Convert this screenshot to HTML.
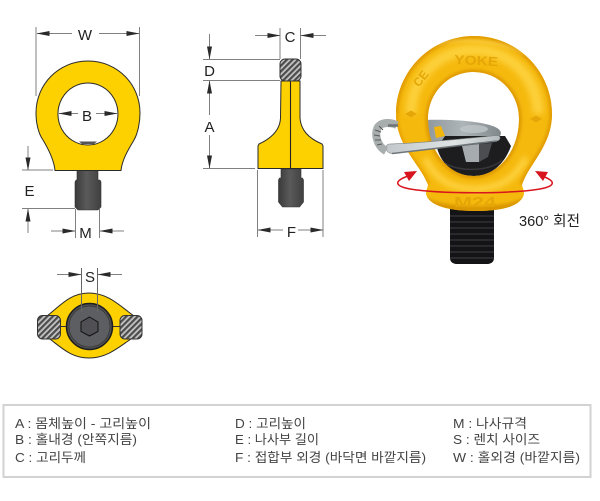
<!DOCTYPE html>
<html><head><meta charset="utf-8"><style>
html,body{margin:0;padding:0;background:#fff}
svg{display:block}
text{font-family:"Liberation Sans","Noto Sans CJK KR",sans-serif}
.d{font-size:15px;fill:#222;text-anchor:middle}
.t{font-size:13px;fill:#444;font-family:"Liberation Sans","Noto Sans CJK KR",sans-serif}
.l{stroke:#808080;stroke-width:1;fill:none}
</style></head><body>
<svg width="600" height="501" viewBox="0 0 600 501" xmlns="http://www.w3.org/2000/svg">
<defs>
<pattern id="h" width="4" height="4" patternUnits="userSpaceOnUse" patternTransform="rotate(45)">
<rect width="4" height="4" fill="#c4c4c4"/><rect width="2.200" height="4" fill="#4c4c4c"/>
</pattern>
<linearGradient id="bolt" x1="0" x2="1" y1="0" y2="0"><stop offset="0" stop-color="#3a3a3a"/><stop offset=".45" stop-color="#5a5a5a"/><stop offset="1" stop-color="#404040"/></linearGradient>
<linearGradient id="plate" x1="0" x2="1" y1="0" y2="0"><stop offset="0" stop-color="#8e979c"/><stop offset=".5" stop-color="#aeb5b9"/><stop offset="1" stop-color="#7f878b"/></linearGradient>
<linearGradient id="bar" x1="0" x2="1" y1="0" y2="0"><stop offset="0" stop-color="#c2c8cb"/><stop offset=".6" stop-color="#dfe3e4"/><stop offset="1" stop-color="#b4bbbe"/></linearGradient>
<filter id="b1" x="-20%" y="-20%" width="140%" height="140%"><feGaussianBlur stdDeviation="1.500"/></filter>
<filter id="b2" x="-20%" y="-20%" width="140%" height="140%"><feGaussianBlur stdDeviation="3"/></filter>
<marker id="a" markerWidth="13" markerHeight="6" refX="12.500" refY="3" orient="auto" markerUnits="userSpaceOnUse"><path d="M0,.5L13,3L0,5.500Z" fill="#2a2a2a"/></marker>
<clipPath id="rc"><path clip-rule="evenodd" d="M426,194C426,189 428,187 428,185C421,165 396,146 396,114C396,71 431,36 474,36C517,36 552,71 552,114C552,146 528,165 522,185C522,187 524,189 524,194C522,203 510,211 476,211C442,211 428,203 426,194ZM473.500,72C448,72 428,93 428,119C428,150 448,176 473.500,176C499,176 519,150 519,119C519,93 499,72 473.500,72Z"/></clipPath>
</defs>

<!-- FRONT VIEW -->
<path d="M77,170h21v10h2l1,2v25l-3,3h-20l-3,-3v-25l1,-2h1z" fill="url(#bolt)" stroke="#333" stroke-width=".6"/>
<path fill-rule="evenodd" d="M55,170.500L121,170.500C122,160 128,150 134,140C138,133 140,122 140,113C140,84 117,61 88,61C59,61 36,84 36,113C36,122 38,133 43,140C49,150 54,160 55,170.500ZM88,83A30,31 0 1 1 87.900,83Z" fill="#fdd000" stroke="#2a2a2a" stroke-width="1"/>
<path d="M79,141.500h18l-3,2.500h-12z" fill="#555"/>
<g class="l">
<path d="M36,27V96M139.500,27V96"/>
<path d="M22,170H53M22,208.500H75M75.500,209V238M99.500,209V238"/>
</g>
<g class="l">
<path d="M72,33.500H37" marker-end="url(#a)"/><path d="M99,33.500H139" marker-end="url(#a)"/>
<path d="M78,113.500H59" marker-end="url(#a)"/><path d="M96,113.500H117" marker-end="url(#a)"/>
<path d="M28,146V170" marker-end="url(#a)"/><path d="M28,233V209" marker-end="url(#a)"/>
<path d="M51,231H75" marker-end="url(#a)"/><path d="M124,231H100" marker-end="url(#a)"/>
</g>
<text class="d" x="85" y="40">W</text>
<text class="d" x="87" y="121">B</text>
<text class="d" x="29.500" y="196">E</text>
<text class="d" x="85.500" y="238">M</text>

<!-- SIDE VIEW -->
<path d="M281,169h20v9h1.500l1,2v22l-4,5h-17l-4,-5v-22l1,-2h1.500z" fill="url(#bolt)" stroke="#333" stroke-width=".6"/>
<path d="M281,81H300V118C301,130 308,138 322,144L323,146V168.500H258V146L259,144C272,138 280,130 280.500,118Z" fill="#fdd000" stroke="#2a2a2a" stroke-width="1"/>
<path d="M290.500,81V168.500" stroke="#222" stroke-width="1.100"/>
<rect x="280" y="59" width="21" height="22" rx="5" fill="url(#h)" stroke="#333" stroke-width="1"/>
<g class="l">
<path d="M280,28V59M300.500,28V59"/>
<path d="M203,59.500H280M203,80.500H280M203,168.500H255"/>
<path d="M257.500,170V237M323,170V237"/>
</g>
<g class="l">
<path d="M255,35.500H280" marker-end="url(#a)"/><path d="M326,35.500H301" marker-end="url(#a)"/>
<path d="M209.500,34V59" marker-end="url(#a)"/>
<path d="M209.500,115V81" marker-end="url(#a)"/><path d="M209.500,135V168" marker-end="url(#a)"/>
<path d="M283,230H258" marker-end="url(#a)"/><path d="M298,230H323" marker-end="url(#a)"/>
</g>
<text class="d" x="290" y="42">C</text>
<text class="d" x="209.500" y="76">D</text>
<text class="d" x="209.500" y="132">A</text>
<text class="d" x="291.500" y="237">F</text>

<!-- BOTTOM VIEW -->
<path d="M47,316C60,306 70,293 89,293C108,293 120,306 134,316L134,337C120,346 108,358 89,358C70,358 60,346 47,337Z" fill="#fdd000" stroke="#2a2a2a" stroke-width="1"/>
<path d="M58,326.500H122" stroke="#333" stroke-width="1"/>
<rect x="37.500" y="315.500" width="23" height="23.500" rx="5" fill="url(#h)" stroke="#333"/>
<rect x="120" y="315.500" width="22" height="23.500" rx="5" fill="url(#h)" stroke="#333"/>
<circle cx="89.500" cy="326.500" r="23" fill="#505155" stroke="#1e1e1e" stroke-width="1.500"/>
<circle cx="89.500" cy="326.500" r="20.500" fill="#5d5e62" stroke="#333" stroke-width=".7"/>
<path d="M89.500,317L98,322V331.500L89.500,336L81,331.500V322Z" fill="#505054" stroke="#111" stroke-width="1"/>
<g class="l">
<path d="M81.500,268V312M97.500,268V312" stroke="#666"/>
<path d="M57,274.500H81" marker-end="url(#a)"/><path d="M122,274.500H98" marker-end="url(#a)"/>
</g>
<text class="d" x="90" y="282">S</text>

<!-- PHOTO -->
<path d="M450,208H494V258Q494,263 488,264H456Q450,263 450,258Z" fill="#141416"/>
<g stroke="#38383c" stroke-width="1.200">
<path d="M450,216H494M450,222H494M450,228H494M450,234H494M450,240H494M450,246H494M450,252H494M450,258H494"/>
</g>
<!-- upper plate -->
<path d="M425,120C450,119 485,121 497,128C502,131 502,135 498,138L425,145Z" fill="url(#plate)"/>
<ellipse cx="474" cy="129" rx="14" ry="4" fill="#bfc5c8" opacity=".8"/>
<path d="M434,127L441,126L445,136L436,138Z" fill="#f2b60c"/>
<!-- nut -->
<path d="M437,148C442,166 456,176 474,176C492,176 505,163 511,146L505,136H445Z" fill="#1d1d20"/>
<path d="M445,163C458,172 490,172 502,160" stroke="#38383c" stroke-width="1.500" fill="none"/>
<path d="M462,146L479,144V162H466Z" fill="#a5abae"/>
<path d="M479,144L492,143L488,157L479,162Z" fill="#4b4d50"/>
<!-- ring -->
<path fill-rule="evenodd" d="M426,194C426,189 428,187 428,185C421,165 396,146 396,114C396,71 431,36 474,36C517,36 552,71 552,114C552,146 528,165 522,185C522,187 524,189 524,194C522,203 510,211 476,211C442,211 428,203 426,194ZM473.500,72C448,72 428,93 428,119C428,150 448,176 473.500,176C499,176 519,150 519,119C519,93 499,72 473.500,72Z" fill="#f5b90d"/>
<g clip-path="url(#rc)">
<path d="M396,114C396,71 431,36 474,36C517,36 552,71 552,114C552,146 528,165 522,185" fill="none" stroke="#e09a05" stroke-width="5" filter="url(#b1)"/>
<path d="M428,185C421,165 396,146 396,114" fill="none" stroke="#e89f05" stroke-width="4" filter="url(#b1)"/>
<path d="M473.500,72C448,72 428,93 428,119C428,150 448,176 473.500,176C499,176 519,150 519,119C519,93 499,72 473.500,72Z" fill="none" stroke="#dd9703" stroke-width="5" filter="url(#b1)"/>
<path d="M411,114C411,78 438,50 474,50C510,50 538,78 538,114" fill="none" stroke="#fdd03a" stroke-width="11" filter="url(#b2)"/>
<path d="M425,158C436,180 450,188 475,189C500,188 514,180 526,158" fill="none" stroke="#ffd445" stroke-width="6" filter="url(#b2)"/>
<path d="M430,46C455,38 495,38 525,54" fill="none" stroke="#ffe17a" stroke-width="1.500" filter="url(#b1)" opacity=".8"/>
<path d="M427,197C440,209 510,209 524,197V212H427Z" fill="#d99505" filter="url(#b1)"/>
</g>
<text x="476" y="65" font-size="13" font-weight="bold" fill="#e5a708" text-anchor="middle" textLength="44" lengthAdjust="spacingAndGlyphs" transform="rotate(3 476 65)">YOKE</text>
<text x="424" y="81" font-size="12" font-weight="bold" fill="#e5a708" text-anchor="middle" transform="rotate(-52 424 81)">CE</text>
<text x="475" y="207" font-size="15" font-weight="bold" fill="#e5a708" text-anchor="middle" textLength="42" lengthAdjust="spacingAndGlyphs">M24</text>
<path d="M405,114l6,-3.500l6,3.500l-6,3.500z" fill="#e5a708"/>
<path d="M530,119l6,-3.500l6,3.500l-6,3.500z" fill="#e5a708"/>
<!-- lower bar -->
<path d="M389,144C425,143 470,138 497,135.500C501,135.500 501,140 497,141C470,144 425,150 392,153.500C385,153 384,145 389,144Z" fill="url(#bar)" stroke="#79817f" stroke-width=".6"/>
<path d="M392,153.500C425,150 470,144 497,141" fill="none" stroke="#6f7679" stroke-width="1.500"/>
<!-- loop -->
<path d="M397,125C390,122 382,122 378,127C374,134 377,146 386,151" fill="none" stroke="#a8adae" stroke-width="8"/>
<path d="M375,130l6,2M374,135l6,1M375,140l6,0M377,145l5,-1M379,126l4,4" stroke="#5a5a5a" stroke-width="1"/>
<path d="M388,125.500H398" stroke="#6e7477" stroke-width="2.500"/>
<!-- red arrow -->
<path d="M408,176C394,181 394,186 410,189C440,194 510,194 540,189C556,186 556,181 542,176" fill="none" stroke="#d8141e" stroke-width="1.500"/>
<path d="M417,171L404,172L409,181Z" fill="#d8141e"/>
<path d="M535,171L548,172L543,181Z" fill="#d8141e"/>
<text x="519" y="226" font-size="14.500" fill="#222" textLength="61" lengthAdjust="spacingAndGlyphs">360° 회전</text>

<!-- TABLE -->
<rect x="3.500" y="405" width="587" height="72" fill="#fff" stroke="#d2d2d2" stroke-width="2"/>
<text class="t" x="15" y="428" textLength="136" lengthAdjust="spacingAndGlyphs">A : 몸체높이 - 고리높이</text>
<text class="t" x="15" y="444" textLength="122" lengthAdjust="spacingAndGlyphs">B : 홀내경 (안쪽지름)</text>
<text class="t" x="15" y="462" textLength="71" lengthAdjust="spacingAndGlyphs">C : 고리두께</text>
<text class="t" x="235" y="428" textLength="71" lengthAdjust="spacingAndGlyphs">D : 고리높이</text>
<text class="t" x="235" y="444" textLength="84" lengthAdjust="spacingAndGlyphs">E : 나사부 길이</text>
<text class="t" x="235" y="462" textLength="191" lengthAdjust="spacingAndGlyphs">F : 접합부 외경 (바닥면 바깥지름)</text>
<text class="t" x="453" y="428" textLength="74" lengthAdjust="spacingAndGlyphs">M : 나사규격</text>
<text class="t" x="453" y="444" textLength="87" lengthAdjust="spacingAndGlyphs">S : 렌치 사이즈</text>
<text class="t" x="453" y="462" textLength="127" lengthAdjust="spacingAndGlyphs">W : 홀외경 (바깥지름)</text>
</svg>
</body></html>
